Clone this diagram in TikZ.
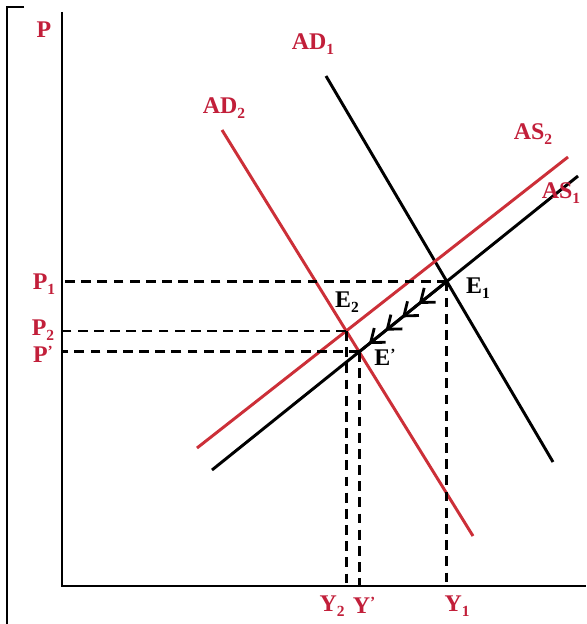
\documentclass[tikz,border=0pt]{standalone}
\usepackage{fontspec}
\setmainfont{Liberation Serif}
\usetikzlibrary{decorations.markings}
\definecolor{ink}{HTML}{000000}
\definecolor{curvered}{HTML}{CC2F38}
\definecolor{labred}{HTML}{C21F3A}
\newcommand{\sublab}[2]{#1\raisebox{-0.45ex}{\fontsize{11}{12}\selectfont #2}}
\newcommand{\primelab}[1]{#1\raisebox{0.55ex}{\fontsize{11}{12}\selectfont '}}

\begin{document}
\begin{tikzpicture}[x=0.025cm,y=-0.025cm,font=\fontsize{17}{20}\selectfont\bfseries,
  axis/.style={draw=ink,line width=2.1pt},
  curve/.style={line width=2.1pt},
  guide/.style={draw=ink,line width=2pt,dash pattern=on 7pt off 4.5pt},
  chain/.style={draw=ink,line width=2pt,postaction={decorate},
    decoration={markings,
      mark=between positions 0.3 and 0.9 step 0.19 with
        {\draw[ink,line width=2pt] (-8.5pt,6.5pt) -- (0pt,0pt) -- (-8.5pt,-6.5pt);}}},
  redlab/.style={text=labred,inner sep=0pt},
  blklab/.style={text=ink,inner sep=0pt}]
  \useasboundingbox[fill=white] (0,0) rectangle (586,624);
  % frame corner on the left
  \draw[axis] (24,7) -- (7,7) -- (7,624);
  % axes
  \coordinate (O) at (62,586);
  \coordinate (ytop) at (62,12);
  \coordinate (xend) at (586,586);
  \draw[axis] (ytop) -- (O) -- (xend);
  % demand and supply lines
  \coordinate (ad1a) at (326,76);  \coordinate (ad1b) at (553,462);
  \coordinate (ad2a) at (222,130); \coordinate (ad2b) at (473,536);
  \coordinate (as1a) at (212,470); \coordinate (as1b) at (578,176);
  \coordinate (as2a) at (197,448); \coordinate (as2b) at (568,157);
  \draw[curve,ink] (ad1a) -- (ad1b);
  \draw[curve,ink] (as1a) -- (as1b);
  \draw[curve,curvered] (ad2a) -- (ad2b);
  \draw[curve,curvered] (as2a) -- (as2b);
  % equilibria
  \coordinate (E1) at (intersection of ad1a--ad1b and as1a--as1b);
  \coordinate (E2) at (intersection of ad2a--ad2b and as2a--as2b);
  \coordinate (Ep) at (intersection of ad2a--ad2b and as1a--as1b);
  \foreach \e in {E1,E2,Ep} {
    \draw[guide] (\e) -- (O |- \e);
    \draw[guide] (\e) -- (\e |- O);
  }
  \draw[chain] (E1) -- (Ep);
  % labels
  \node[redlab] (lP) at (44,30) {P};
  \node[redlab] (lAD1) at (313,44) {\sublab{AD}{1}};
  \node[redlab] (lAD2) at (224,108) {\sublab{AD}{2}};
  \node[redlab] (lAS2) at (533,134) {\sublab{AS}{2}};
  \node[redlab] (lAS1) at (561,193) {\sublab{AS}{1}};
  \node[redlab] (lP1) at (44,284) {\sublab{P}{1}};
  \node[redlab] (lP2) at (43,330) {\sublab{P}{2}};
  \node[redlab] (lPp) at (43,354) {\primelab{P}};
  \node[redlab] (lY2) at (332,606) {\sublab{Y}{2}};
  \node[redlab] (lYp) at (364,605) {\primelab{Y}};
  \node[redlab] (lY1) at (457,606) {\sublab{Y}{1}};
  \node[blklab] (lE1) at (478,288) {\sublab{E}{1}};
  \node[blklab] (lE2) at (347,302) {\sublab{E}{2}};
  \node[blklab] (lEp) at (385,357) {\primelab{E}};
\end{tikzpicture}
\end{document}
